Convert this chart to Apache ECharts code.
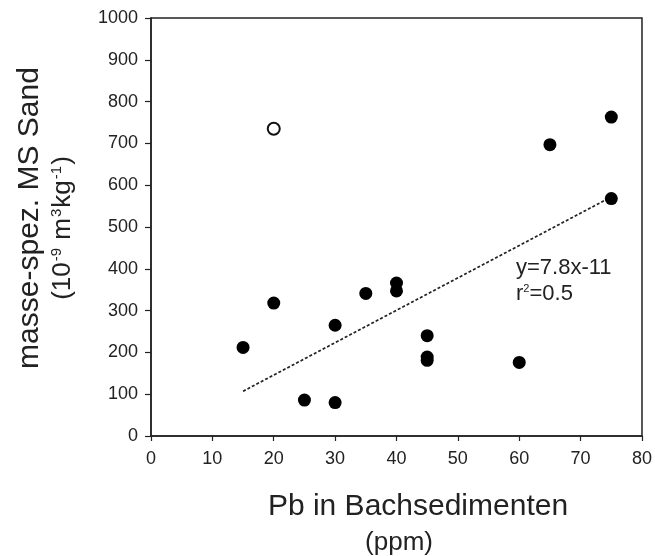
<!DOCTYPE html>
<html>
<head>
<meta charset="utf-8">
<script src="https://cdn.jsdelivr.net/npm/echarts@6/dist/echarts.min.js"></script>
<style>
  html, body { margin: 0; padding: 0; background: #fff; }
  #chart { width: 655px; height: 556px; }
</style>
</head>
<body>
<div id="chart"></div>
<script>
// Pb (ppm) vs. mass-specific susceptibility
var pbFilled = [15, 20, 25, 30, 30, 35, 40, 40, 45, 45, 45, 60, 65, 75, 75]
var msFilled = [212, 318, 86, 80, 265, 341, 366, 347, 240, 189, 181, 176, 697, 763, 568]
var pbOpen = [20]
var msOpen = [735]
// regression line y=7.8x-11, end points as drawn
var trendX = [15, 75]
var trendY = [107, 572]
var xTicks = [0, 10, 20, 30, 40, 50, 60, 70, 80]
var yTicks = [0, 100, 200, 300, 400, 500, 600, 700, 800, 900, 1000]

var font = 'Liberation Sans, Arial, Helvetica, sans-serif'
var ink = '#222'

function pairs(xs, ys) {
  return xs.map(function (x, i) { return [x, ys[i]] })
}

var chart = echarts.init(document.getElementById('chart'), null, { renderer: 'canvas' })

chart.setOption({
  animation: false,
  backgroundColor: '#fff',
  grid: {
    left: 151,
    right: 12,
    top: 18,
    bottom: 120,
    show: true,
    borderColor: ink,
    borderWidth: 1.5
  },
  xAxis: {
    type: 'value',
    min: xTicks[0],
    max: xTicks[xTicks.length - 1],
    interval: 10,
    axisLine: { lineStyle: { color: ink, width: 1.5 } },
    axisTick: { inside: false, length: 5, lineStyle: { color: ink, width: 1.2 } },
    axisLabel: { color: ink, fontSize: 18, fontFamily: font, margin: 14, formatter: String },
    splitLine: { show: false }
  },
  yAxis: {
    type: 'value',
    min: yTicks[0],
    max: yTicks[yTicks.length - 1],
    interval: 100,
    axisLine: { lineStyle: { color: ink, width: 1.5 } },
    axisTick: { inside: false, length: 6, lineStyle: { color: ink, width: 1.2 } },
    axisLabel: { color: ink, fontSize: 18, fontFamily: font, margin: 13, formatter: String },
    splitLine: { show: false }
  },
  series: [
    {
      name: 'trend',
      type: 'line',
      data: pairs(trendX, trendY),
      symbol: 'none',
      lineStyle: { color: ink, width: 1.7, type: [3, 2] },
      z: 1
    },
    {
      name: 'filled',
      type: 'scatter',
      data: pairs(pbFilled, msFilled),
      symbol: 'circle',
      symbolSize: 13,
      itemStyle: { color: '#000', opacity: 1 },
      z: 3
    },
    {
      name: 'open',
      type: 'scatter',
      data: pairs(pbOpen, msOpen),
      symbol: 'emptyCircle',
      symbolSize: 12,
      itemStyle: { color: '#111', borderColor: '#111', borderWidth: 1.9, opacity: 1 },
      z: 3
    }
  ],
  graphic: [
    {
      type: 'text',
      x: 30, y: 218,
      rotation: Math.PI / 2,
      style: {
        text: 'masse-spez. MS Sand',
        font: '30px ' + font,
        fill: ink,
        align: 'center',
        verticalAlign: 'middle'
      }
    },
    {
      type: 'text',
      x: 63, y: 228,
      rotation: Math.PI / 2,
      style: {
        text: '(10{s|-9} m{s|3}kg{s|-1})',
        font: '26px ' + font,
        fill: ink,
        align: 'center',
        verticalAlign: 'middle',
        rich: {
          s: { fontSize: 15, fontFamily: font, fill: ink, padding: [0, 1, 12, 1] }
        }
      }
    },
    {
      type: 'text',
      x: 418, y: 507,
      style: {
        text: 'Pb in Bachsedimenten',
        font: '30px ' + font,
        fill: ink,
        align: 'center',
        verticalAlign: 'middle'
      }
    },
    {
      type: 'text',
      x: 399, y: 543,
      style: {
        text: '(ppm)',
        font: '26px ' + font,
        fill: ink,
        align: 'center',
        verticalAlign: 'middle'
      }
    },
    {
      type: 'text',
      x: 516, y: 268,
      style: {
        text: 'y=7.8x-11',
        font: '22px ' + font,
        fill: ink,
        align: 'left',
        verticalAlign: 'middle'
      }
    },
    {
      type: 'text',
      x: 516, y: 294,
      style: {
        text: 'r{s|2}=0.5',
        font: '22px ' + font,
        fill: ink,
        align: 'left',
        verticalAlign: 'middle',
        rich: {
          s: { fontSize: 11, fontFamily: font, fill: ink, padding: [0, 0, 10, 0] }
        }
      }
    }
  ]
})
</script>
</body>
</html>
